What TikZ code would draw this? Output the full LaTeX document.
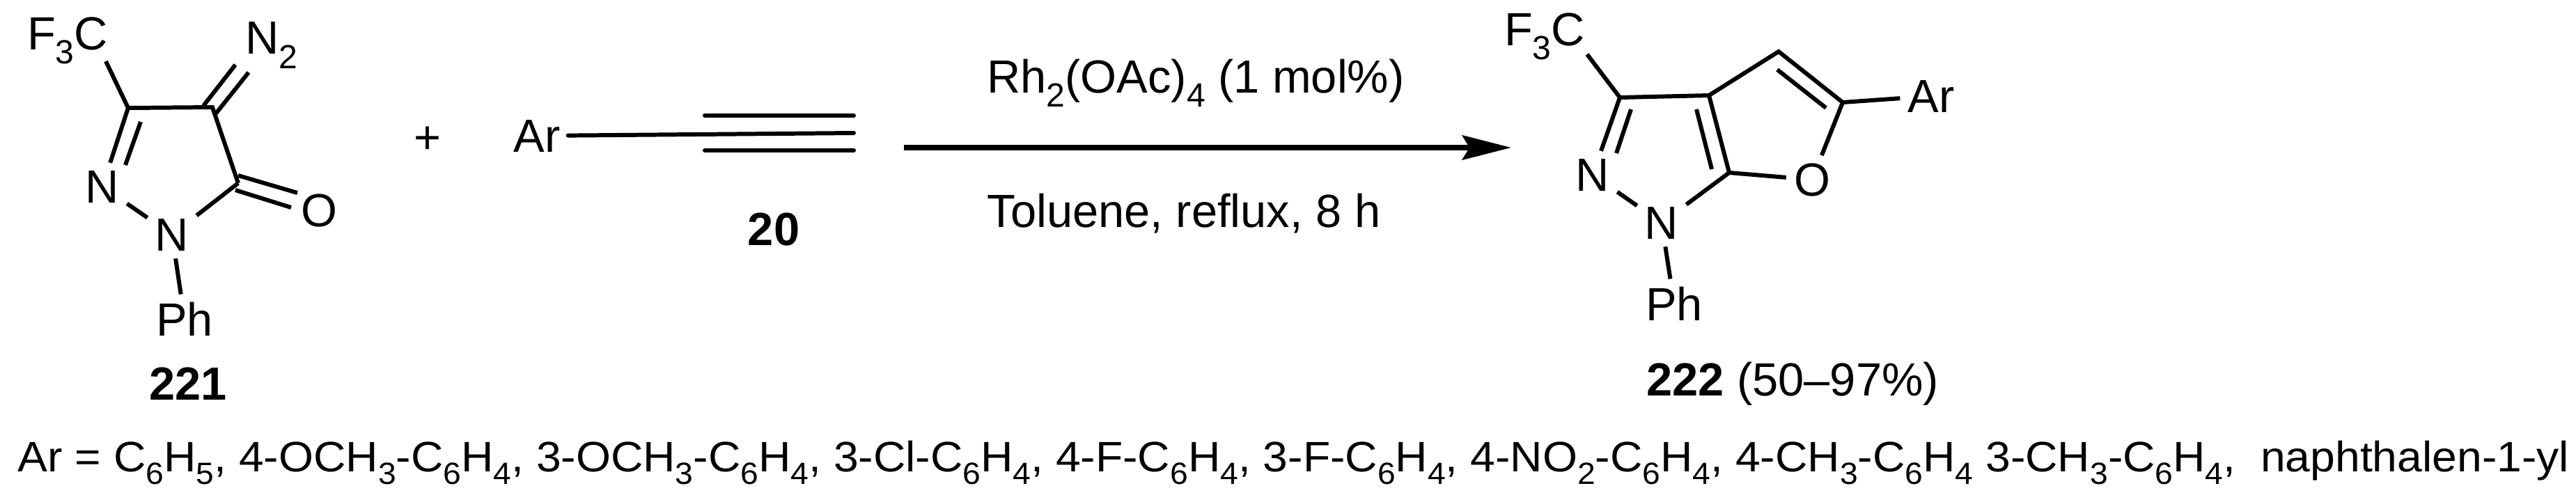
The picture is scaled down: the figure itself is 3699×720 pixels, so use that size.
\documentclass[tikz,border=0pt]{standalone}
\usepackage{fontspec}
\setmainfont{Liberation Sans}
\newfontfamily\listfont{Liberation Sans}[FakeStretch=1.05]
\usetikzlibrary{arrows.meta}
\newcommand{\chsub}[1]{\raisebox{-0.3em}{\scalebox{0.72}{#1}}}
\begin{document}
\begin{tikzpicture}[x=0.01cm,y=-0.01cm,
  every node/.style={font=\fontsize{19}{23}\selectfont, inner sep=1pt},
  atom/.style={inner sep=3pt},
  lbl/.style={font=\fontsize{19}{23}\selectfont\bfseries},
  bond/.style={line width=1.7pt}]
\useasboundingbox (0,0) rectangle (3699,720);
% ---- 221
\coordinate (a3) at (184,155);
\coordinate (a4) at (305,154);
\coordinate (a5) at (342,263);
\node[atom] (aN2) at (147,268) {N};
\node[atom] (aN1) at (247,337) {N};
\node[atom] (aF) at (97,58) {F\chsub{3}C};
\node[atom] (aNN) at (390,65) {N\chsub{2}};
\node[atom] (aO) at (458,302) {O};
\node[atom] (aPh) at (265,458) {Ph};
\node[lbl] (l221) at (270,551) {221};
\coordinate (aFb) at (152,88);
\draw[bond] (aFb) -- (a3);
\draw[bond] (a3) -- (a4) -- (a5);
\draw[bond] (a3) -- (aN2);
\draw[bond] (202,175) -- (180,237);
\draw[bond] (aN2) -- (aN1);
\draw[bond] (aN1) -- (a5);
\draw[bond] (aN1) -- (aPh);
\draw[bond] (292,152) -- (338,93);
\draw[bond] (310,163) -- (357,104);
\draw[bond] (342,252) -- (427,277);
\draw[bond] (338,273) -- (418,298);
% ---- plus and 20
\node (plus) at (614,201) {+};
\node[atom] (ar1) at (771,195) {Ar};
\coordinate (t2) at (1226,191);
\draw[bond,line cap=round] (ar1) -- (t2);
\draw[bond,line cap=round] (1012,166) -- (1226,166);
\draw[bond,line cap=round] (1012,216) -- (1226,216);
\node[lbl] (l20) at (1111,329) {20};
% ---- arrow
\coordinate (s) at (1298,212);
\coordinate (e) at (2170,212);
\draw[line width=2pt,-{Stealth[length=20pt,width=10pt,inset=3pt]}] (s) -- (e);
\node[anchor=base] (cat) at (1717,133) {Rh\chsub{2}(OAc)\chsub{4} (1 mol\%)};
\node[anchor=base west,inner sep=0pt] (cond) at (1417,326) {Toluene, reflux, 8 h};
% ---- 222
\coordinate (b3) at (2326,140);
\coordinate (b3a) at (2454,137);
\coordinate (b4) at (2554,74);
\coordinate (b5) at (2646,147);
\coordinate (b7a) at (2483,248);
\node[atom] (bO) at (2602,258) {O};
\node[atom] (bN2) at (2287,251) {N};
\node[atom] (bN1) at (2386,320) {N};
\node[atom] (bF) at (2218,52) {F\chsub{3}C};
\node[atom] (bAr) at (2773,138) {Ar};
\node[atom] (bPh) at (2404,436) {Ph};
\coordinate (bFb) at (2279,78);
\draw[bond] (bFb) -- (b3);
\draw[bond] (b3) -- (b3a) -- (b4) -- (b5);
\draw[bond] (b5) -- (bO);
\draw[bond] (bO) -- (b7a);
\draw[bond] (b7a) -- (b3a);
\draw[bond] (b7a) -- (bN1);
\draw[bond] (bN1) -- (bN2);
\draw[bond] (bN2) -- (b3);
\draw[bond] (bN1) -- (bPh);
\draw[bond] (b5) -- (bAr);
\draw[bond] (2342,157) -- (2321,220);
\draw[bond] (2436,157) -- (2458,243);
\draw[bond] (2552,100) -- (2622,155);
\node (l222) at (2574,551) {\textbf{222} (50–97\%)};
% ---- bottom
\node[anchor=base west,inner sep=0pt,font=\listfont\fontsize{17.4}{21}\selectfont] (list) at (25,677) {Ar = C\chsub{6}H\chsub{5}, 4-OCH\chsub{3}-C\chsub{6}H\chsub{4}, 3-OCH\chsub{3}-C\chsub{6}H\chsub{4}, 3-Cl-C\chsub{6}H\chsub{4}, 4-F-C\chsub{6}H\chsub{4}, 3-F-C\chsub{6}H\chsub{4}, 4-NO\chsub{2}-C\chsub{6}H\chsub{4}, 4-CH\chsub{3}-C\chsub{6}H\chsub{4} 3-CH\chsub{3}-C\chsub{6}H\chsub{4},\ \ naphthalen-1-yl};
\end{tikzpicture}
\end{document}
